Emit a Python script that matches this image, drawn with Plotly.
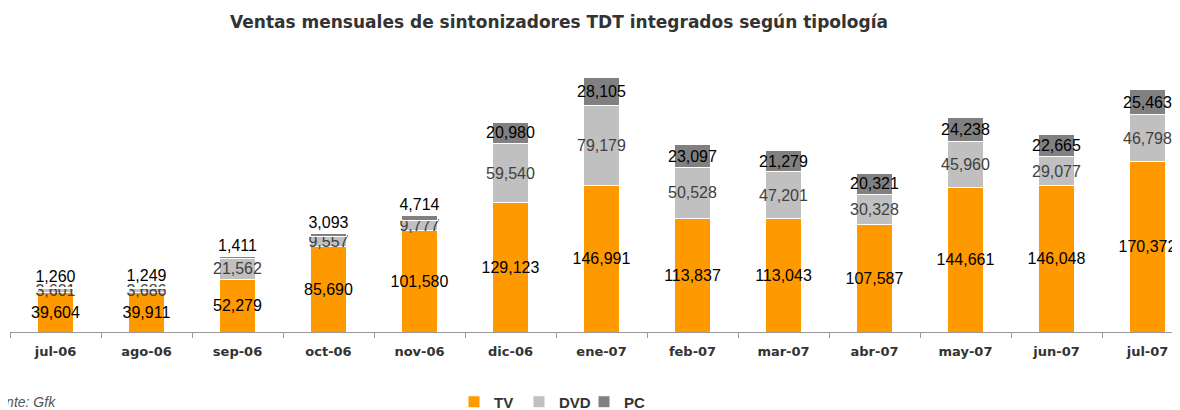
import plotly.graph_objs as go

months = ["jul-06", "ago-06", "sep-06", "oct-06", "nov-06", "dic-06", "ene-07",
          "feb-07", "mar-07", "abr-07", "may-07", "jun-07", "jul-07"]
tv = [39604, 39911, 52279, 85690, 101580, 129123, 146991,
      113837, 113043, 107587, 144661, 146048, 170372]
dvd = [3601, 3686, 21562, 9557, 9777, 59540, 79179,
       50528, 47201, 30328, 45960, 29077, 46798]
pc = [1260, 1249, 1411, 3093, 4714, 20980, 28105,
      23097, 21279, 20321, 24238, 22665, 25463]

# page body adds an 8px margin, so the figure is 8px smaller than the window
W, H = 1172, 402
L, R, T, B = 2, 0, 52, 78
plot_w = W - L - R
plot_h = H - T - B
cat_px = 91  # width of one category in pixels
legend_y = -(394 - (H - B)) / plot_h

def fmt(vals):
    return [f"{v:,}" for v in vals]

fig = go.Figure()
fig.add_trace(go.Bar(
    x=months, y=tv, name="<b>TV</b>", text=fmt(tv),
    marker={"color": "#FF9900", "line": {"color": "white", "width": 1}},
    textposition="inside", insidetextanchor="middle", textangle=0,
    textfont={"color": "black", "size": 16},
))
fig.add_trace(go.Bar(
    x=months, y=dvd, name="<b>DVD</b>", text=fmt(dvd),
    marker={"color": "#C0C0C0", "line": {"color": "white", "width": 1}},
    textposition="inside", insidetextanchor="middle", textangle=0,
    textfont={"color": "#404040", "size": 16},
))
fig.add_trace(go.Bar(
    x=months, y=pc, name="<b>PC</b>", text=fmt(pc),
    marker={"color": "#808080", "line": {"color": "white", "width": 1}},
    textposition=["outside"] * 5 + ["inside"] * 8, insidetextanchor="middle",
    textangle=0,
    textfont={"color": "black", "size": 16},
    cliponaxis=False,
))

fig.update_layout(
    width=W, height=H,
    barmode="stack",
    bargap=0.6,
    plot_bgcolor="white",
    paper_bgcolor="white",
    font={"family": "Liberation Sans, Arial, sans-serif", "color": "#333333"},
    uniformtext={"minsize": 16, "mode": "show"},
    margin={"l": L, "r": R, "t": T, "b": B, "autoexpand": False},
    title={
        "text": "<b>Ventas mensuales de sintonizadores TDT integrados según tipología</b>",
        "x": 551 / W, "xanchor": "center",
        "y": 1 - 14 / H, "yanchor": "middle",
        "font": {"size": 17, "color": "#333333", "family": "DejaVu Sans, sans-serif"},
    },
    xaxis={
        "range": [-0.5, -0.5 + plot_w / cat_px],
        "showline": True, "linecolor": "#999999", "linewidth": 1,
        "ticks": "outside", "tickson": "boundaries", "ticklen": 5,
        "tickcolor": "#999999",
        "ticklabelstandoff": 7,
        "tickfont": {"size": 13, "color": "#333333", "family": "DejaVu Sans, sans-serif"},
        "tickprefix": "<b>", "ticksuffix": "</b>",
        "showgrid": False,
    },
    yaxis={
        "range": [0, plot_h * 1000],
        "visible": False,
    },
    legend={
        "orientation": "h",
        "x": (446 - L) / plot_w, "xanchor": "left",
        "y": legend_y, "yanchor": "middle",
        "font": {"size": 15, "color": "#333333"},
        "itemwidth": 30,
        "entrywidth": 20, "entrywidthmode": "pixels",
        "traceorder": "normal",
    },
    annotations=[{
        "text": "<i>Fuente: Gfk</i>",
        "xref": "paper", "yref": "paper",
        "x": (50 - L) / plot_w, "xanchor": "right",
        "y": legend_y, "yanchor": "middle",
        "showarrow": False,
        "font": {"size": 14, "color": "#555555"},
    }],
)

fig.write_html("out.html")
